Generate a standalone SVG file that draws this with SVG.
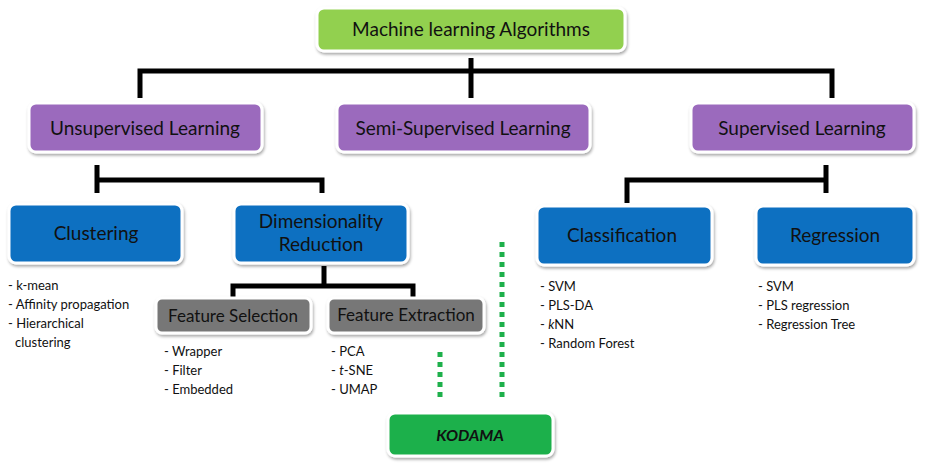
<svg xmlns="http://www.w3.org/2000/svg" width="941" height="469" viewBox="0 0 941 469">
<style>
.box{stroke:#ffffff;stroke-width:3;filter:url(#sh)}
.g{fill:#92d050}.p{fill:#9b6bbd}.b{fill:#0e6fc1}.gr{fill:#777777}.k{fill:#1db04b}
text{font-family:Lato,"Open Sans","Liberation Sans",sans-serif;fill:#111}
.t{font-size:19px;text-anchor:middle}
.s{font-size:17px;text-anchor:middle}
.l{font-size:13px}
.c{stroke:#000;stroke-width:5;fill:none}
.d{stroke:#1db04b;stroke-width:5;stroke-dasharray:5 5;fill:none}
</style>
<defs><filter id="sh" x="-10%" y="-20%" width="120%" height="150%"><feDropShadow dx="1" dy="2" stdDeviation="1.5" flood-color="#000" flood-opacity="0.35"/></filter></defs>
<g id="connectors">
<path class="c" d="M471 58V98M140 98V71H832V98"/>
<path class="c" d="M97 165V193M97 180H322V193"/>
<path class="c" d="M324 266V286M233 298V286H413V298"/>
<path class="c" d="M826 165V193M826 180H627V203"/>
<path class="d" d="M440 352V400"/>
<path class="d" d="M502 242V402"/>
</g>
<g id="root"><rect class="box g" x="317" y="8" width="308" height="43" rx="7"/><text class="t" x="471" y="36">Machine learning Algorithms</text></g>
<g id="unsup"><rect class="box p" x="29" y="103" width="233" height="49" rx="7"/><text class="t" x="145" y="135">Unsupervised Learning</text></g>
<g id="semi"><rect class="box p" x="337" y="103" width="253" height="49" rx="7"/><text class="t" x="463" y="135">Semi-Supervised Learning</text></g>
<g id="sup"><rect class="box p" x="691" y="103" width="223" height="49" rx="7"/><text class="t" x="802" y="135">Supervised Learning</text></g>
<g id="clust"><rect class="box b" x="9" y="204" width="173" height="59" rx="7"/><text class="t" x="96" y="240">Clustering</text>
<text class="l" x="8" y="290">- k-mean</text><text class="l" x="8" y="309">- Affinity propagation</text><text class="l" x="8" y="328">- Hierarchical</text><text class="l" x="15" y="347">clustering</text></g>
<g id="dimred"><rect class="box b" x="234" y="204" width="174" height="59" rx="7"/><text class="t" x="321" y="228">Dimensionality</text><text class="t" x="321" y="251">Reduction</text></g>
<g id="fsel"><rect class="box gr" x="156" y="298" width="155" height="35" rx="6"/><text class="s" x="233" y="322">Feature Selection</text>
<text class="l" x="164" y="356">- Wrapper</text><text class="l" x="164" y="375">- Filter</text><text class="l" x="164" y="394">- Embedded</text></g>
<g id="fext"><rect class="box gr" x="328" y="298" width="156" height="35" rx="6"/><text class="s" x="406" y="321">Feature Extraction</text>
<text class="l" x="331" y="356">- PCA</text><text class="l" x="331" y="375">- <tspan font-style="italic">t</tspan>-SNE</text><text class="l" x="331" y="394">- UMAP</text></g>
<g id="kodama"><rect class="box k" x="388" y="413" width="165" height="43" rx="7"/><text x="470" y="441" text-anchor="middle" font-weight="bold" font-style="italic" font-size="16">KODAMA</text></g>
<g id="classif"><rect class="box b" x="537" y="206" width="175" height="59" rx="7"/><text class="t" x="622" y="242">Classification</text>
<text class="l" x="540" y="291">- SVM</text><text class="l" x="540" y="310">- PLS-DA</text><text class="l" x="540" y="329">- <tspan font-style="italic">k</tspan>NN</text><text class="l" x="540" y="348">- Random Forest</text></g>
<g id="regr"><rect class="box b" x="756" y="206" width="158" height="59" rx="7"/><text class="t" x="835" y="242">Regression</text>
<text class="l" x="758" y="291">- SVM</text><text class="l" x="758" y="310">- PLS regression</text><text class="l" x="758" y="329">- Regression Tree</text></g>
</svg>
